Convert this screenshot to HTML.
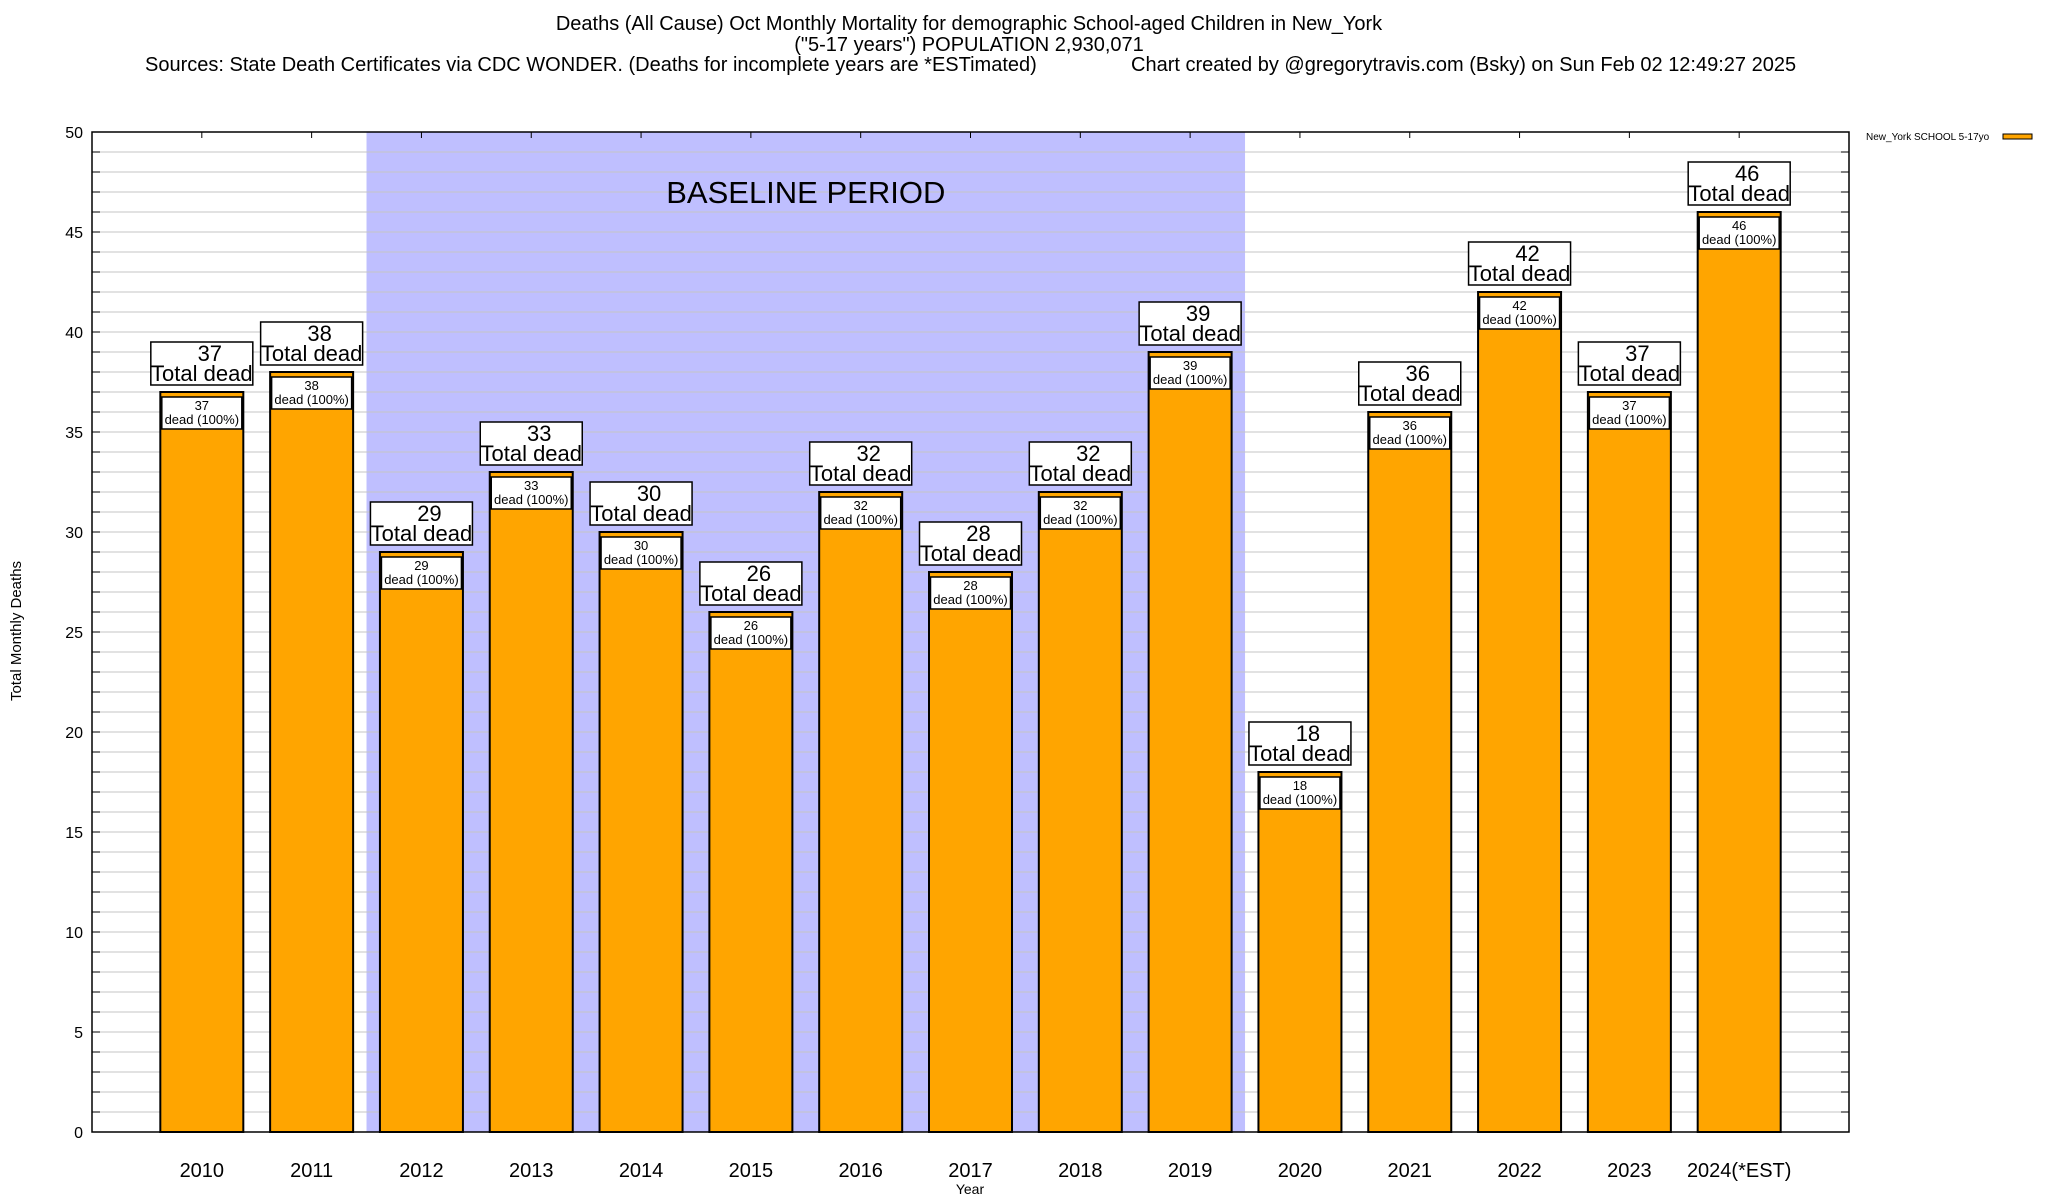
<!DOCTYPE html>
<html><head><meta charset="utf-8"><style>
html,body{margin:0;padding:0;background:#fff;}
svg{display:block;font-family:"Liberation Sans",sans-serif;}
</style></head><body>
<svg id="chart" width="2048" height="1200" xmlns="http://www.w3.org/2000/svg">
<text x="969" y="30" font-size="20" text-anchor="middle">Deaths (All Cause) Oct Monthly Mortality for demographic School-aged Children in New_York</text>
<text x="969" y="51" font-size="20" text-anchor="middle">("5-17 years") POPULATION 2,930,071</text>
<text x="145" y="71" font-size="20">Sources: State Death Certificates via CDC WONDER. (Deaths for incomplete years are *ESTimated)</text>
<text x="1131" y="71" font-size="20">Chart created by @gregorytravis.com (Bsky) on Sun Feb 02 12:49:27 2025</text>
<g id="plot"></g>
</svg>
<script>
const categories = ["2010","2011","2012","2013","2014","2015","2016","2017","2018","2019","2020","2021","2022","2023","2024(*EST)"];
const deaths = [37,38,29,33,30,26,32,28,32,39,18,36,42,37,46];
const yTicks = [0,5,10,15,20,25,30,35,40,45,50];
const baselineStart = 2, baselineEnd = 9;

const L=92, R=1849, T=132, B=1132, yMax=50;
const step=(R-L)/(categories.length+1);
const xs=i=>L+(i+1)*step;
const ys=v=>B-(v/yMax)*(B-T);
const NS="http://www.w3.org/2000/svg";
const g=document.getElementById('plot');
function mk(tag,attrs,parent){const e=document.createElementNS(NS,tag);for(const k in attrs)e.setAttribute(k,attrs[k]);(parent||g).appendChild(e);return e;}

// baseline band
let band=mk('rect',{x:xs(baselineStart)-step/2,y:T,width:(baselineEnd-baselineStart+1)*step,height:B-T,fill:'#bfbfff'});



// grid lines
for(let v=1;v<yMax;v++){
  let gl=mk('line',{x1:L,x2:R,y1:ys(v),y2:ys(v),stroke:'#c4c4c4','stroke-width':1});
  
  
  mk('line',{x1:L,x2:L+8,y1:ys(v),y2:ys(v),stroke:'#000','stroke-width':1});
  mk('line',{x1:R-8,x2:R,y1:ys(v),y2:ys(v),stroke:'#000','stroke-width':1});
}
let bt=mk('text',{x:(xs(baselineStart)+xs(baselineEnd))/2,y:203,'font-size':31,'text-anchor':'middle'});
bt.textContent='BASELINE PERIOD';


// y tick labels
yTicks.forEach(v=>{
  let t=mk('text',{x:83,y:ys(v)+6,'font-size':16,'text-anchor':'end'});
  t.textContent=v;
  
  
});
// bars
categories.forEach((c,i)=>{
  const v=deaths[i], cx=xs(i), w=83, x0=cx-w/2, top=ys(v);
  let bar=mk('rect',{x:x0,y:top,width:w,height:B-top,fill:'#ffa500',stroke:'#000','stroke-width':2});
  
  
  let ib=mk('rect',{x:x0+1.5,y:top+5,width:w-3,height:32,fill:'#fff',stroke:'#000','stroke-width':1.5});
  
  
  let t1=mk('text',{x:cx,y:top+18,'font-size':13,'text-anchor':'middle'});t1.textContent=v;
  
  
  let t2=mk('text',{x:cx,y:top+32,'font-size':13,'text-anchor':'middle'});t2.textContent='dead (100%)';
  
  
  let ob=mk('rect',{x:cx-51,y:top-50,width:102,height:43,fill:'#fff',stroke:'#000','stroke-width':1.5});
  
  
  let t3=mk('text',{x:cx+8,y:top-31,'font-size':22,'text-anchor':'middle'});t3.textContent=v;
  
  
  let t4=mk('text',{x:cx,y:top-11,'font-size':22,'text-anchor':'middle'});t4.textContent='Total dead';
  
  
  let xl=mk('text',{x:cx,y:1177,'font-size':20,'text-anchor':'middle'});xl.textContent=c;
  
  
  mk('line',{x1:cx,x2:cx,y1:T,y2:T+6,stroke:'#000','stroke-width':1});
});
// frame
let fr=mk('rect',{x:L,y:T,width:R-L,height:B-T,fill:'none',stroke:'#000','stroke-width':1.5});


// axis titles
let xt=mk('text',{x:970,y:1194,'font-size':14,'text-anchor':'middle'});xt.textContent='Year';


let yt=mk('text',{x:0,y:0,'font-size':15,'text-anchor':'middle',transform:'translate(21,631) rotate(-90)'});yt.textContent='Total Monthly Deaths';


// legend
let lt=mk('text',{x:1866,y:140,'font-size':10});lt.textContent='New_York SCHOOL 5-17yo';


let ls=mk('rect',{x:2003,y:134,width:29,height:5,fill:'#ffa500',stroke:'#000','stroke-width':1});


</script>
</body></html>
